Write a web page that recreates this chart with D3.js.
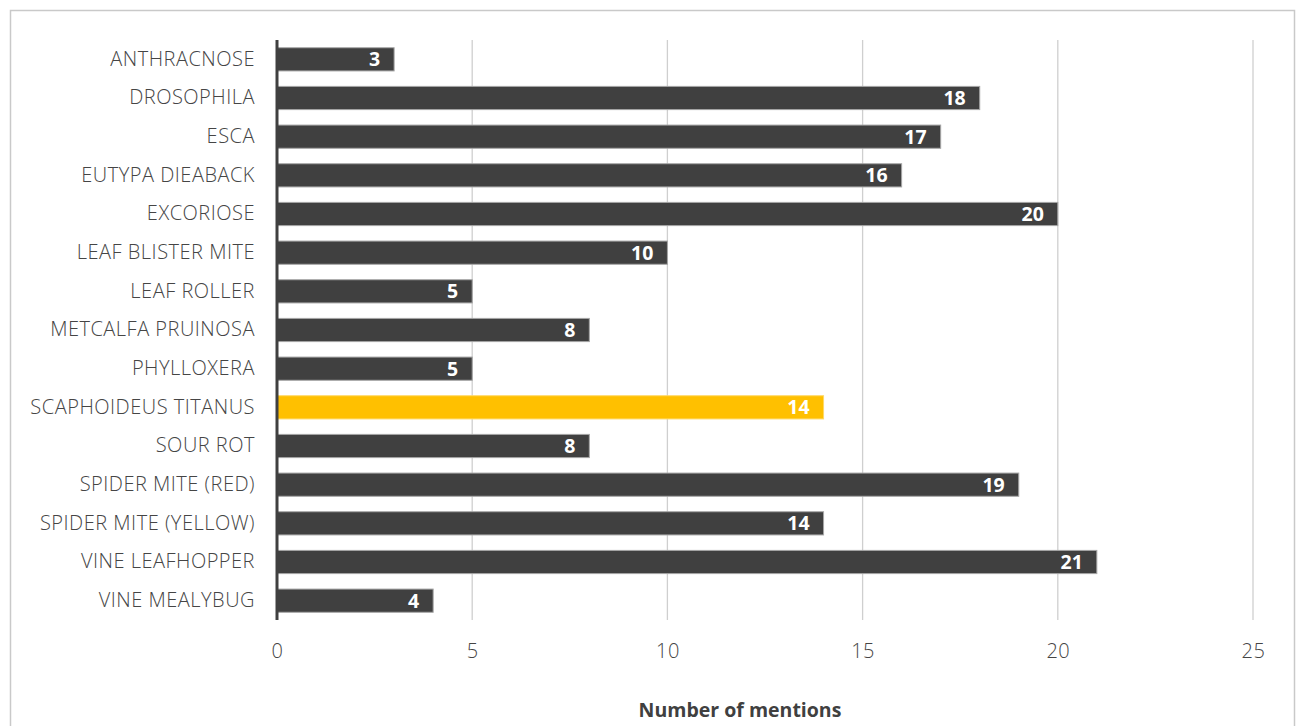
<!DOCTYPE html>
<html><head><meta charset="utf-8">
<script src="https://cdn.jsdelivr.net/npm/d3@7"></script>
<style>body{margin:0;background:#fff;}svg{display:block;}</style>
</head><body>
<script>
const categories = ["ANTHRACNOSE","DROSOPHILA","ESCA","EUTYPA DIEABACK","EXCORIOSE","LEAF BLISTER MITE","LEAF ROLLER","METCALFA PRUINOSA","PHYLLOXERA","SCAPHOIDEUS TITANUS","SOUR ROT","SPIDER MITE (RED)","SPIDER MITE (YELLOW)","VINE LEAFHOPPER","VINE MEALYBUG"];
const values = [3,18,17,16,20,10,5,8,5,14,8,19,14,21,4];
const highlight = "SCAPHOIDEUS TITANUS";
const xTicks = [0,5,10,15,20,25];
const xTitle = "Number of mentions";

const W = 1301, H = 726;
const m = {left:277, right:48, top:40, bottom:106};
const svg = d3.select("body").append("svg").attr("width",W).attr("height",H);
svg.append("rect").attr("x",10.5).attr("y",10.5).attr("width",1284).attr("height",730)
  .attr("fill","#fff").attr("stroke","#c9c9c9").attr("stroke-width",1.5);

const x = d3.scaleLinear().domain([0,25]).range([m.left, W-m.right]);
const y = d3.scaleBand().domain(categories).range([m.top, H-m.bottom]).paddingInner(0.4).paddingOuter(0.2);
const font = "'Open Sans', sans-serif";
const fs = 19.5;

// gridlines
svg.append("g").selectAll("line").data(xTicks.slice(1)).join("line")
  .attr("x1",d=>x(d)).attr("x2",d=>x(d)).attr("y1",m.top).attr("y2",H-m.bottom)
  .attr("stroke","#cfcfcf").attr("stroke-width",1.3);

// bars
svg.append("g").selectAll("rect").data(categories).join("rect")
  .attr("x",x(0)).attr("y",d=>y(d)).attr("height",y.bandwidth())
  .attr("width",(d,i)=>x(values[i])-x(0))
  .attr("fill",d=>d===highlight?"#ffc000":"#404040")
  .attr("stroke",d=>d===highlight?"#ffd966":"#a6a6a6").attr("stroke-width",1);

// value labels
svg.append("g").selectAll("text").data(categories).join("text")
  .attr("x",(d,i)=>x(values[i])-14).attr("y",d=>y(d)+y.bandwidth()/2)
  .attr("dy","0.36em").attr("text-anchor","end")
  .attr("font-family",font).attr("font-weight","bold").attr("font-size",fs).attr("fill","#fff")
  .text((d,i)=>values[i]);

// y axis line
svg.append("line").attr("x1",x(0)).attr("x2",x(0)).attr("y1",m.top).attr("y2",H-m.bottom)
  .attr("stroke","#404040").attr("stroke-width",3);

// y labels
const yAxis = d3.axisLeft(y).tickSize(0).tickPadding(22);
const ya = svg.append("g").attr("transform",`translate(${x(0)},0)`).call(yAxis);
ya.select(".domain").remove();
ya.selectAll("text").attr("font-family",font).attr("font-size",20).attr("font-weight",300)
  .attr("letter-spacing","0.5px").attr("fill","#454545");

// x axis
const xAxis = d3.axisBottom(x).tickValues(xTicks).tickSize(0).tickPadding(24);
const xa = svg.append("g").attr("transform",`translate(0,${H-m.bottom})`).call(xAxis);
xa.select(".domain").remove();
xa.selectAll("text").attr("font-family",font).attr("font-size",20).attr("font-weight",300)
  .attr("letter-spacing","0.5px").attr("fill","#454545");

svg.append("text").attr("x",(x(0)+x(25))/2 - 25).attr("y",717).attr("text-anchor","middle")
  .attr("font-family",font).attr("font-weight","bold").attr("font-size",fs).attr("fill","#404040")
  .text(xTitle);
</script>
</body></html>
